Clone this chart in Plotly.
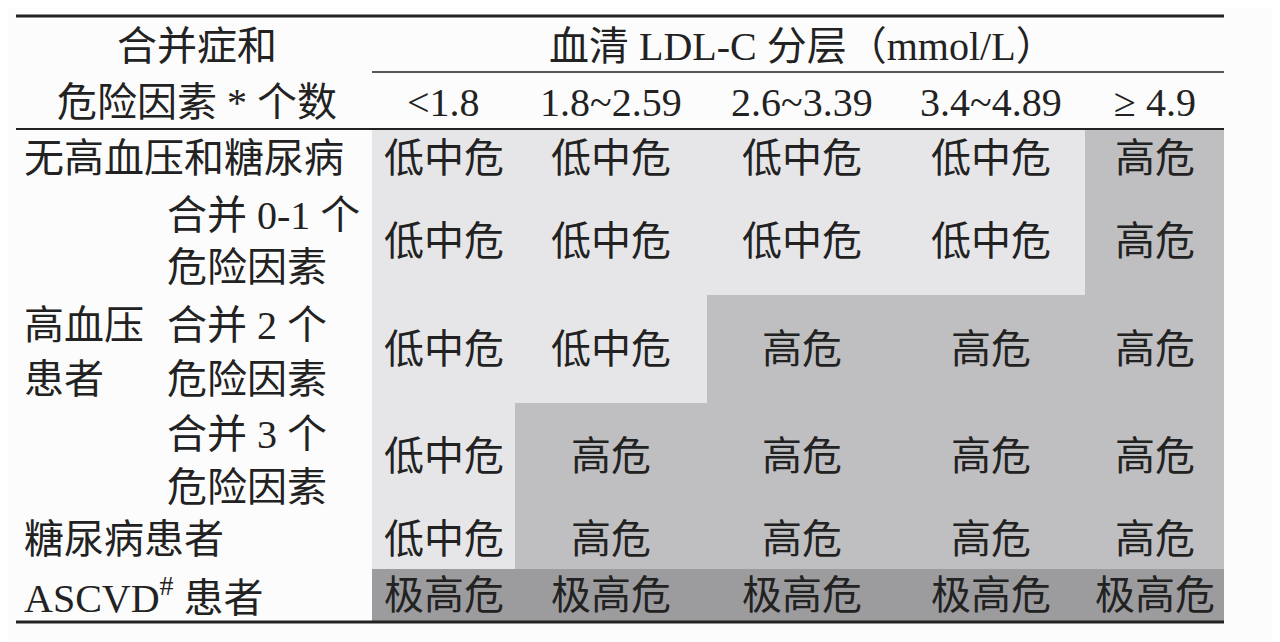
import plotly.graph_objects as go

# table content
col_labels = ["<1.8", "1.8~2.59", "2.6~3.39", "3.4~4.89", "≥ 4.9"]
risk_names = {0: "低中危", 1: "高危", 2: "极高危"}
risk = [
    [0, 0, 0, 0, 1],  # 无高血压和糖尿病
    [0, 0, 0, 0, 1],  # 高血压 合并0-1个
    [0, 0, 1, 1, 1],  # 高血压 合并2个
    [0, 1, 1, 1, 1],  # 高血压 合并3个
    [0, 1, 1, 1, 1],  # 糖尿病患者
    [2, 2, 2, 2, 2],  # ASCVD患者
]

# grid geometry (pixels)
x_edges = [370, 513, 705, 895, 1083, 1222]
y_edges = [127, 185, 293, 401, 508, 567, 620]
FONT = "Liberation Serif, Noto Sans CJK SC, serif"
FS = 40

fig = go.Figure()
fig.add_trace(go.Heatmap(
    x=x_edges, y=y_edges, z=risk, zmin=0, zmax=2,
    colorscale=[[0, "#e6e6e8"], [0.5, "#bfbfc1"], [1, "#9c9c9e"]],
    showscale=False, hoverinfo="skip",
))

ann = []
xc = [(a + b) / 2 for a, b in zip(x_edges[:-1], x_edges[1:])]
yc = [(a + b) / 2 for a, b in zip(y_edges[:-1], y_edges[1:])]
for i, row in enumerate(risk):
    for j, v in enumerate(row):
        ann.append(dict(x=xc[j], y=yc[i], text=risk_names[v]))
for j, lab in enumerate(col_labels):
    ann.append(dict(x=xc[j], y=100, text=lab))
ann += [
    dict(x=195, y=44, text="合并症和"),
    dict(x=195, y=100, text="危险因素 * 个数"),
    dict(x=800, y=44, text="血清 LDL-C 分层（mmol/L）"),
]
left = [
    (20, yc[0], "无高血压和糖尿病"),
    (163, 213, "合并 0-1 个"), (163, 265, "危险因素"),
    (20, 323, "高血压"), (20, 377, "患者"),
    (163, 323, "合并 2 个"), (163, 377, "危险因素"),
    (163, 432, "合并 3 个"), (163, 485, "危险因素"),
    (20, yc[4], "糖尿病患者"),
    (20, yc[5], "ASCVD<sup>#</sup> 患者"),
]
for x, y, t in left:
    ann.append(dict(x=x, y=y, text=t, xanchor="left"))
for a in ann:
    a.setdefault("xanchor", "center")
    a.update(yanchor="middle", showarrow=False, font=dict(family=FONT, size=FS, color="#222"))

lines = [
    dict(x0=14, x1=1222, y0=14, y1=14, w=3),
    dict(x0=370, x1=1222, y0=70, y1=70, w=1.5),
    dict(x0=14, x1=1222, y0=127, y1=127, w=2),
    dict(x0=14, x1=1222, y0=620, y1=620, w=3),
]
shapes = [dict(type="line", x0=l["x0"], x1=l["x1"], y0=l["y0"], y1=l["y1"],
               line=dict(color="#222", width=l["w"])) for l in lines]

fig.update_layout(
    width=1280, height=642, margin=dict(l=0, r=0, t=0, b=0),
    paper_bgcolor="#fcfcfc", plot_bgcolor="#fcfcfc",
    xaxis=dict(range=[6, 1286], visible=False, fixedrange=True),
    yaxis=dict(range=[648, 6], visible=False, fixedrange=True),
    annotations=ann, shapes=shapes,
)
fig.write_html("out.html")
